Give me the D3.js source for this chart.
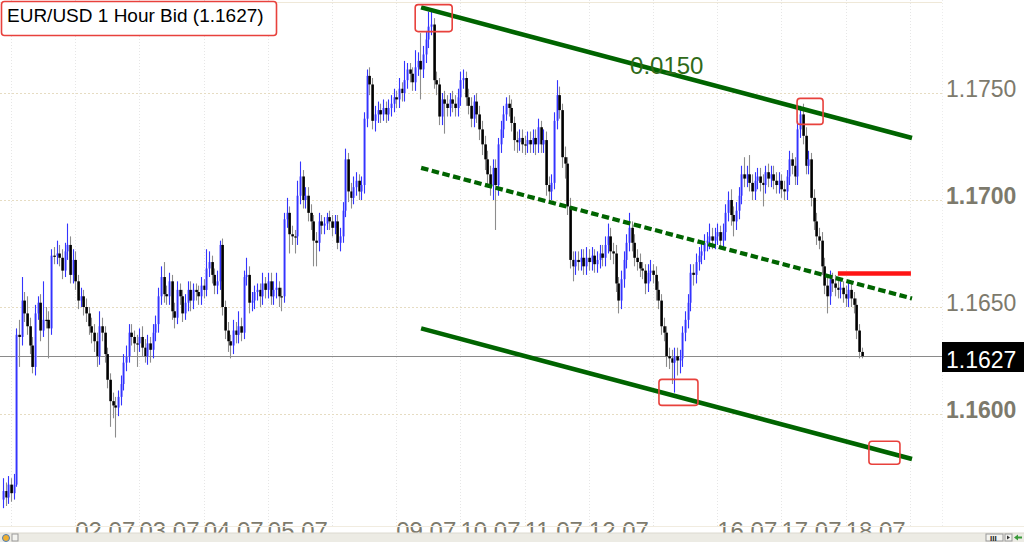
<!DOCTYPE html>
<html><head><meta charset="utf-8">
<script src="https://cdn.jsdelivr.net/npm/d3@7"></script>
<style>html,body{margin:0;padding:0;background:#fff;overflow:hidden}svg{display:block}text{font-family:"Liberation Sans",Arial,sans-serif}</style>
</head><body>
<script>
// ---- data (EUR/USD hourly bid) ----
const firstOpen = 1.1560;
const closes = [
1.1564,1.1561,1.1567,1.1563,1.1567,1.1637,1.1636,1.1653,1.1647,1.1641,
1.1632,1.1622,1.1647,1.1652,1.1639,1.1644,1.1644,1.1640,1.1674,1.1674,
1.1675,1.1673,1.1667,1.1676,1.1679,1.1665,1.1672,1.1662,1.1653,1.1655,
1.1650,1.1647,1.1641,1.1638,1.1634,1.1627,1.1641,1.1638,1.1628,1.1616,
1.1606,1.1604,1.1603,1.1608,1.1614,1.1624,1.1627,1.1638,1.1636,1.1633,
1.1633,1.1636,1.1631,1.1627,1.1633,1.1630,1.1638,1.1642,1.1655,1.1664,
1.1656,1.1655,1.1662,1.1648,1.1645,1.1658,1.1655,1.1647,1.1652,1.1658,
1.1653,1.1658,1.1657,1.1655,1.1660,1.1658,1.1668,1.1671,1.1665,1.1660,
1.1662,1.1679,1.1650,1.1639,1.1634,1.1632,1.1639,1.1637,1.1641,1.1638,
1.1664,1.1665,1.1652,1.1653,1.1657,1.1658,1.1655,1.1661,1.1658,1.1662,
1.1655,1.1658,1.1659,1.1655,1.1655,1.1691,1.1694,1.1684,1.1683,1.1683,
1.1702,1.1711,1.1700,1.1702,1.1694,1.1690,1.1681,1.1680,1.1690,1.1688,
1.1689,1.1692,1.1690,1.1687,1.1690,1.1680,1.1683,1.1695,1.1719,1.1704,
1.1701,1.1706,1.1709,1.1704,1.1707,1.1738,1.1758,1.1754,1.1737,1.1740,
1.1742,1.1740,1.1743,1.1740,1.1743,1.1745,1.1748,1.1747,1.1752,1.1750,
1.1756,1.1761,1.1759,1.1755,1.1762,1.1765,1.1761,1.1768,1.1775,1.1781,
1.1782,1.1756,1.1754,1.1739,1.1747,1.1745,1.1743,1.1747,1.1745,1.1743,
1.1748,1.1756,1.1757,1.1748,1.1744,1.1738,1.1746,1.1740,1.1733,1.1726,
1.1719,1.1712,1.1707,1.1715,1.1707,1.1726,1.1733,1.1740,1.1745,1.1743,
1.1736,1.1728,1.1727,1.1729,1.1726,1.1726,1.1728,1.1726,1.1729,1.1726,
1.1734,1.1726,1.1728,1.1707,1.1704,1.1708,1.1737,1.1749,1.1742,1.1720,
1.1717,1.1697,1.1672,1.1669,1.1672,1.1671,1.1673,1.1669,1.1673,1.1671,
1.1674,1.1670,1.1672,1.1675,1.1673,1.1679,1.1683,1.1676,1.1675,1.1661,
1.1653,1.1663,1.1672,1.1680,1.1687,1.1680,1.1673,1.1671,1.1668,1.1667,
1.1661,1.1666,1.1667,1.1665,1.1658,1.1653,1.1641,1.1638,1.1627,1.1626,
1.1624,1.1627,1.1625,1.1626,1.1638,1.1644,1.1652,1.1666,1.1665,1.1671,
1.1674,1.1676,1.1680,1.1681,1.1683,1.1681,1.1683,1.1685,1.1681,1.1685,
1.1694,1.1700,1.1693,1.1690,1.1695,1.1702,1.1712,1.1710,1.1712,1.1708,
1.1704,1.1709,1.1711,1.1708,1.1707,1.1713,1.1710,1.1712,1.1709,1.1707,
1.1709,1.1705,1.1704,1.1711,1.1719,1.1716,1.1711,1.1733,1.1740,1.1730,
1.1716,1.1719,1.1701,1.1690,1.1683,1.1681,1.1669,1.1660,1.1655,1.1663,
1.1661,1.1659,1.1658,1.1659,1.1656,1.1654,1.1658,1.1654,1.1651,1.1639,1.1629,1.1627];
const highs = [
1.1570,1.1568,1.1571,1.1570,1.1572,1.1640,1.1644,1.1664,1.1657,1.1655,
1.1645,1.1636,1.1651,1.1655,1.1656,1.1662,1.1650,1.1648,1.1677,1.1678,
1.1681,1.1679,1.1677,1.1680,1.1689,1.1683,1.1677,1.1676,1.1665,1.1659,
1.1658,1.1654,1.1650,1.1645,1.1642,1.1638,1.1648,1.1645,1.1641,1.1631,
1.1619,1.1610,1.1608,1.1611,1.1618,1.1628,1.1632,1.1642,1.1642,1.1639,
1.1637,1.1640,1.1641,1.1635,1.1637,1.1636,1.1642,1.1646,1.1659,1.1669,
1.1671,1.1660,1.1666,1.1665,1.1652,1.1662,1.1661,1.1658,1.1656,1.1662,
1.1662,1.1661,1.1661,1.1660,1.1664,1.1663,1.1677,1.1676,1.1674,1.1668,
1.1667,1.1681,1.1682,1.1653,1.1643,1.1637,1.1644,1.1643,1.1648,1.1645,
1.1667,1.1673,1.1669,1.1657,1.1660,1.1661,1.1661,1.1666,1.1664,1.1666,
1.1666,1.1662,1.1666,1.1662,1.1659,1.1694,1.1701,1.1697,1.1688,1.1686,
1.1709,1.1718,1.1714,1.1706,1.1706,1.1698,1.1693,1.1685,1.1694,1.1693,
1.1692,1.1694,1.1695,1.1693,1.1693,1.1693,1.1687,1.1699,1.1724,1.1722,
1.1708,1.1711,1.1713,1.1712,1.1711,1.1741,1.1761,1.1762,1.1757,1.1744,
1.1746,1.1745,1.1747,1.1746,1.1747,1.1749,1.1752,1.1751,1.1757,1.1755,
1.1765,1.1764,1.1764,1.1762,1.1770,1.1769,1.1778,1.1772,1.1779,1.1788,
1.1789,1.1785,1.1760,1.1757,1.1750,1.1751,1.1749,1.1750,1.1751,1.1749,
1.1752,1.1760,1.1761,1.1760,1.1752,1.1748,1.1749,1.1750,1.1744,1.1737,
1.1730,1.1723,1.1716,1.1719,1.1719,1.1729,1.1737,1.1744,1.1748,1.1749,
1.1747,1.1739,1.1732,1.1733,1.1733,1.1730,1.1732,1.1732,1.1733,1.1733,
1.1738,1.1737,1.1733,1.1732,1.1711,1.1712,1.1741,1.1756,1.1753,1.1745,
1.1725,1.1720,1.1701,1.1676,1.1676,1.1676,1.1677,1.1677,1.1678,1.1677,
1.1678,1.1677,1.1676,1.1679,1.1679,1.1683,1.1689,1.1687,1.1680,1.1679,
1.1664,1.1667,1.1676,1.1684,1.1694,1.1690,1.1684,1.1677,1.1675,1.1671,
1.1670,1.1670,1.1672,1.1670,1.1669,1.1662,1.1656,1.1645,1.1641,1.1631,
1.1630,1.1631,1.1631,1.1630,1.1641,1.1648,1.1656,1.1670,1.1670,1.1675,
1.1678,1.1680,1.1684,1.1685,1.1689,1.1687,1.1687,1.1689,1.1688,1.1689,
1.1698,1.1704,1.1705,1.1697,1.1699,1.1706,1.1716,1.1720,1.1716,1.1721,
1.1712,1.1713,1.1715,1.1715,1.1712,1.1716,1.1717,1.1716,1.1716,1.1713,
1.1713,1.1712,1.1709,1.1714,1.1723,1.1722,1.1720,1.1737,1.1744,1.1745,
1.1734,1.1723,1.1722,1.1705,1.1694,1.1687,1.1685,1.1673,1.1664,1.1667,
1.1666,1.1665,1.1663,1.1662,1.1662,1.1660,1.1662,1.1661,1.1657,1.1654,1.1642,1.1631];
const lows = [
1.1556,1.1557,1.1558,1.1559,1.1560,1.1566,1.1622,1.1632,1.1643,1.1637,
1.1628,1.1619,1.1618,1.1644,1.1634,1.1636,1.1640,1.1626,1.1637,1.1670,
1.1670,1.1669,1.1663,1.1664,1.1672,1.1661,1.1661,1.1658,1.1649,1.1650,
1.1646,1.1643,1.1637,1.1633,1.1629,1.1622,1.1623,1.1634,1.1624,1.1612,
1.1594,1.1598,1.1589,1.1599,1.1604,1.1611,1.1620,1.1624,1.1632,1.1629,
1.1622,1.1629,1.1627,1.1624,1.1623,1.1624,1.1626,1.1634,1.1638,1.1651,
1.1652,1.1651,1.1651,1.1644,1.1640,1.1642,1.1651,1.1643,1.1644,1.1648,
1.1648,1.1649,1.1653,1.1651,1.1651,1.1654,1.1655,1.1664,1.1661,1.1656,
1.1656,1.1658,1.1646,1.1635,1.1629,1.1626,1.1628,1.1633,1.1633,1.1634,
1.1635,1.1660,1.1647,1.1648,1.1649,1.1653,1.1650,1.1651,1.1654,1.1654,
1.1651,1.1651,1.1654,1.1650,1.1648,1.1652,1.1687,1.1675,1.1679,1.1675,
1.1679,1.1698,1.1696,1.1696,1.1690,1.1686,1.1669,1.1669,1.1676,1.1684,
1.1684,1.1686,1.1686,1.1683,1.1684,1.1677,1.1676,1.1680,1.1692,1.1699,
1.1696,1.1698,1.1702,1.1700,1.1700,1.1703,1.1734,1.1749,1.1733,1.1732,
1.1736,1.1736,1.1737,1.1736,1.1737,1.1739,1.1741,1.1743,1.1743,1.1746,
1.1746,1.1752,1.1755,1.1751,1.1751,1.1758,1.1747,1.1757,1.1764,1.1771,
1.1777,1.1752,1.1749,1.1735,1.1735,1.1731,1.1739,1.1739,1.1741,1.1739,
1.1739,1.1744,1.1752,1.1744,1.1740,1.1734,1.1734,1.1736,1.1728,1.1721,
1.1714,1.1707,1.1702,1.1700,1.1686,1.1702,1.1722,1.1729,1.1737,1.1739,
1.1732,1.1723,1.1722,1.1723,1.1722,1.1721,1.1722,1.1722,1.1722,1.1721,
1.1722,1.1722,1.1722,1.1702,1.1699,1.1700,1.1705,1.1733,1.1738,1.1715,
1.1710,1.1693,1.1668,1.1662,1.1665,1.1667,1.1667,1.1665,1.1665,1.1667,
1.1667,1.1666,1.1666,1.1668,1.1669,1.1669,1.1675,1.1672,1.1670,1.1657,
1.1647,1.1649,1.1659,1.1668,1.1676,1.1676,1.1669,1.1667,1.1664,1.1663,
1.1656,1.1657,1.1662,1.1661,1.1653,1.1649,1.1637,1.1634,1.1622,1.1621,
1.1614,1.1610,1.1618,1.1619,1.1622,1.1634,1.1640,1.1648,1.1660,1.1661,
1.1667,1.1670,1.1672,1.1676,1.1677,1.1677,1.1677,1.1679,1.1677,1.1677,
1.1681,1.1690,1.1688,1.1683,1.1686,1.1691,1.1698,1.1706,1.1706,1.1704,
1.1700,1.1700,1.1705,1.1704,1.1697,1.1703,1.1706,1.1706,1.1705,1.1703,
1.1703,1.1701,1.1700,1.1700,1.1707,1.1712,1.1707,1.1707,1.1729,1.1726,
1.1712,1.1712,1.1697,1.1686,1.1679,1.1677,1.1665,1.1656,1.1647,1.1651,
1.1657,1.1655,1.1654,1.1654,1.1652,1.1650,1.1650,1.1650,1.1647,1.1635,1.1626,1.1626];

const priceTicks = [1.1750, 1.1700, 1.1650, 1.1600];
const boldTicks = [1.1700, 1.1600];
const lastPrice = 1.1627;
const dayStart = [3,27,51,75,99,123,147,171,195,219,243,267,291,315,339];
const dayLabels = ["","02.07","03.07","04.07","05.07","","09.07","10.07","11.07","12.07","","16.07","17.07","18.07",""];

// channel (bar index, price) and annotations
const channelIdx = [156.3, 339.8];
const channelTop = [1.1790, 1.1729];
const channelWidth = 0.0150;
const channelLabel = "0.0150";
const channelLabelPos = [234.4, 1.1759];
const markIdx = [161, 301.7, 252.5, 329.5];
const markPrice = [1.1785, 1.17414, 1.16101, 1.15819];
const resistIdx = [312.1, 339.4];
const resistPrice = 1.16657;
const title = "EUR/USD 1 Hour Bid (1.1627)";

// ---- drawing ----
const W = 1024, H = 542;
const svg = d3.select("body").append("svg").attr("width", W).attr("height", H);
const x = d3.scaleLinear().domain([0, closes.length - 1]).range([3, 861.7]);
const y = d3.scaleLinear().domain([1.1600, 1.1750]).range([414, 93]);
const plotRight = 942;

svg.append("rect").attr("width", W).attr("height", H).attr("fill", "#fff");
svg.append("line").attr("x1", 0).attr("x2", plotRight).attr("y1", 2.5).attr("y2", 2.5)
  .attr("stroke", "#efe8d8").attr("stroke-width", 1);

// vertical grid
svg.append("g").selectAll("line").data(dayStart).join("line")
  .attr("x1", d => Math.round(x(d)) + 0.5).attr("x2", d => Math.round(x(d)) + 0.5)
  .attr("y1", 0).attr("y2", 527)
  .attr("stroke", "#e6e6e6").attr("stroke-dasharray", "1,2");
svg.append("line").attr("x1", plotRight + 0.5).attr("x2", plotRight + 0.5).attr("y1", 0).attr("y2", 527)
  .attr("stroke", "#ececec").attr("stroke-dasharray", "1,2");

// horizontal grid
svg.append("g").selectAll("line").data(priceTicks).join("line")
  .attr("x1", 0).attr("x2", plotRight)
  .attr("y1", d => Math.round(y(d)) + 0.5).attr("y2", d => Math.round(y(d)) + 0.5)
  .attr("stroke", "#e6dcc2").attr("stroke-dasharray", "2,2");

// y labels
svg.append("g").selectAll("text").data(priceTicks).join("text")
  .attr("x", 946).attr("y", d => y(d) + 4)
  .attr("font-size", 23).attr("fill", "#7d7a6c")
  .attr("font-weight", d => boldTicks.includes(d) ? "bold" : "normal")
  .text(d => d.toFixed(4));

// current price line
svg.append("line").attr("x1", 0).attr("x2", plotRight)
  .attr("y1", Math.round(y(lastPrice)) + 0.5).attr("y2", Math.round(y(lastPrice)) + 0.5)
  .attr("stroke", "#8a8a8a").attr("stroke-width", 1);

// candles
const bars = closes.map((c, i) => ({ i, o: i === 0 ? firstOpen : closes[i - 1], c, h: highs[i], l: lows[i] }));
const cg = svg.append("g");
bars.forEach(b => {
  const up = b.c > b.o;
  const cx = Math.round(x(b.i)) + 0.5;
  const top = y(Math.max(b.o, b.c)), bot = y(Math.min(b.o, b.c));
  const wick = () => cg.append("line").attr("x1", cx).attr("x2", cx)
    .attr("y1", y(b.h)).attr("y2", y(b.l))
    .attr("stroke", up ? "#3434ff" : "#8c8c8c").attr("stroke-width", 1.1);
  const body = () => cg.append("rect").attr("x", cx - 1.2).attr("width", 2.6)
    .attr("y", top).attr("height", Math.max(1.2, bot - top))
    .attr("fill", up ? "#9090ff" : "#000");
  if (up) { body(); wick(); } else { wick(); body(); }
});

// channel lines
const chan = svg.append("g");
[0, 0.5, 1].forEach(f => {
  chan.append("line")
    .attr("x1", x(channelIdx[0])).attr("x2", x(channelIdx[1]))
    .attr("y1", y(channelTop[0] - f * channelWidth)).attr("y2", y(channelTop[1] - f * channelWidth))
    .attr("stroke", "#006400").attr("stroke-width", f === 0.5 ? 4.2 : 4.6)
    .attr("stroke-dasharray", f === 0.5 ? "7.5,3.5" : null);
});
svg.append("text").attr("x", x(channelLabelPos[0])).attr("y", y(channelLabelPos[1]))
  .attr("font-size", 24).attr("fill", "#2f6a18").text(channelLabel);

// resistance
svg.append("line").attr("x1", x(resistIdx[0])).attr("x2", x(resistIdx[1]))
  .attr("y1", y(resistPrice)).attr("y2", y(resistPrice))
  .attr("stroke", "#ff1414").attr("stroke-width", 4.5);

// red marker boxes
const markSize = [[37, 27], [26, 26], [39, 26], [31, 23]];
svg.append("g").selectAll("rect").data(markIdx).join("rect")
  .attr("x", (d, k) => x(d) - markSize[k][0] / 2).attr("y", (d, k) => y(markPrice[k]) - markSize[k][1] / 2)
  .attr("width", (d, k) => markSize[k][0]).attr("height", (d, k) => markSize[k][1])
  .attr("rx", 3).attr("fill", "none").attr("stroke", "#e8413c").attr("stroke-width", 1.6);

// last price tag
svg.append("rect").attr("x", 942).attr("y", 342).attr("width", 82).attr("height", 30).attr("fill", "#000");
svg.append("text").attr("x", 946).attr("y", y(lastPrice) + 12).attr("font-size", 23).attr("fill", "#fff")
  .text(lastPrice.toFixed(4));

// x labels (partly hidden under the scroll strip, as in the original)
svg.append("g").selectAll("text").data(dayStart).join("text")
  .attr("x", d => x(d)).attr("y", 539)
  .attr("font-size", 24).attr("fill", "#7d7a6c")
  .text((d, k) => dayLabels[k]);

// bottom strip
svg.append("line").attr("x1", 0).attr("x2", W).attr("y1", 526.5).attr("y2", 526.5).attr("stroke", "#f1ece0");
svg.append("rect").attr("x", 0).attr("y", 533).attr("width", W).attr("height", 9).attr("fill", "#ecebe4");
svg.append("line").attr("x1", 0).attr("x2", W).attr("y1", 533).attr("y2", 533).attr("stroke", "#dcdad0");
svg.append("circle").attr("cx", 6).attr("cy", 538).attr("r", 3.5).attr("fill", "#f0b030").attr("stroke", "#4a7fc0");
svg.append("rect").attr("x", 12).attr("y", 534).attr("width", 6).attr("height", 7).attr("fill", "#f4f4f0").attr("stroke", "#999");
svg.append("rect").attr("x", 986).attr("y", 534).attr("width", 17).attr("height", 7).attr("fill", "#f4f4f0").attr("stroke", "#999");
svg.append("text").attr("x", 990).attr("y", 541).attr("font-size", 8).attr("font-weight", "bold").attr("fill", "#222").text("III");
svg.append("rect").attr("x", 1005).attr("y", 534).attr("width", 7).attr("height", 7).attr("fill", "#f4f4f0").attr("stroke", "#999");
svg.append("path").attr("d", "M1007,535.5L1010,537.5L1007,539.5Z").attr("fill", "#333");
svg.append("path").attr("d", "M1014,537.5L1018,534.5L1018,536.5L1022,536.5L1022,538.5L1018,538.5L1018,540.5Z").attr("fill", "#3a9a3a");

// title box
svg.append("rect").attr("x", 1.5).attr("y", 1.5).attr("width", 275).attr("height", 34).attr("rx", 3)
  .attr("fill", "#fff").attr("stroke", "#e8413c").attr("stroke-width", 1.6);
svg.append("text").attr("x", 7).attr("y", 22).attr("font-size", 19).attr("fill", "#000").text(title);
</script>
</body></html>
